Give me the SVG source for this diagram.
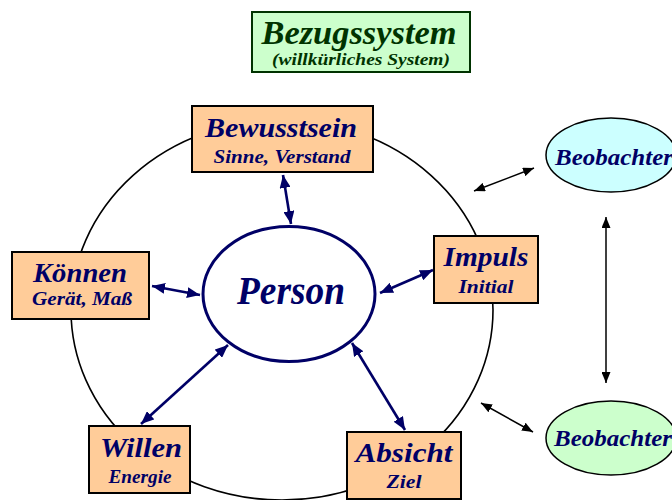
<svg xmlns="http://www.w3.org/2000/svg" width="672" height="500" viewBox="0 0 672 500">
  <style>
    text { font-family: "Liberation Serif", "Times New Roman", serif; font-style: italic; font-weight: bold; text-anchor: middle; }
    .box { fill: #ffcc99; stroke: #000; stroke-width: 2; }
    .main { fill: #000066; font-size: 28px; }
    .sub { fill: #000066; font-size: 19px; }
    .nav { stroke: #000066; stroke-width: 2.6; fill: none; marker-start: url(#navyHead); marker-end: url(#navyHead); }
    .blk { stroke: #000; stroke-width: 1.5; fill: none; marker-start: url(#blackHead); marker-end: url(#blackHead); }
    .obs { stroke: #000; stroke-width: 1.5; }
    .obs-label { fill: #000066; font-size: 24px; text-anchor: start; }
  </style>
  <defs>
    <marker id="navyHead" markerUnits="userSpaceOnUse" viewBox="0 0 13 11" refX="13" refY="5.5" markerWidth="13" markerHeight="11" orient="auto-start-reverse">
      <path d="M0,0 L13,5.5 L0,11 Z" fill="#000066"/>
    </marker>
    <marker id="blackHead" markerUnits="userSpaceOnUse" viewBox="0 0 11 9" refX="11" refY="4.5" markerWidth="11" markerHeight="9" orient="auto-start-reverse">
      <path d="M0,0 L11,4.5 L0,9 Z" fill="#000"/>
    </marker>
  </defs>

  <rect width="672" height="500" fill="#fff"/>

  <!-- outer frame of reference -->
  <ellipse cx="282" cy="310" rx="211" ry="190" fill="none" stroke="#000" stroke-width="1.6"/>

  <!-- title -->
  <g id="title">
    <rect x="252" y="12" width="218" height="60" fill="#ccffcc" stroke="#003300" stroke-width="2"/>
    <text x="359" y="44" font-size="34" fill="#003300" textLength="195" lengthAdjust="spacingAndGlyphs">Bezugssystem</text>
    <text x="361" y="65" font-size="17" fill="#003300" textLength="178" lengthAdjust="spacingAndGlyphs">(willkürliches System)</text>
  </g>

  <g id="connectors">
    <line class="nav" x1="283" y1="175" x2="291" y2="224"/>
    <line class="nav" x1="152" y1="286" x2="200" y2="295"/>
    <line class="nav" x1="433" y1="270" x2="380" y2="293"/>
    <line class="nav" x1="141" y1="424" x2="228" y2="345"/>
    <line class="nav" x1="405" y1="430" x2="352" y2="343"/>
    <line class="blk" x1="474" y1="191" x2="534" y2="168"/>
    <line class="blk" x1="606" y1="217" x2="606" y2="383"/>
    <line class="blk" x1="481" y1="403" x2="533" y2="432"/>
  </g>

  <g id="person">
    <ellipse cx="289" cy="294" rx="86" ry="67.5" fill="#fff" stroke="#000066" stroke-width="3"/>
    <text x="291" y="304" font-size="39" fill="#000066" textLength="108" lengthAdjust="spacingAndGlyphs">Person</text>
  </g>

  <g id="bewusstsein">
    <rect class="box" x="192" y="106" width="181" height="66"/>
    <text class="main" x="281" y="137" textLength="152" lengthAdjust="spacingAndGlyphs">Bewusstsein</text>
    <text class="sub" x="282" y="163" textLength="137" lengthAdjust="spacingAndGlyphs">Sinne, Verstand</text>
  </g>

  <g id="koennen">
    <rect class="box" x="12" y="252" width="137" height="67"/>
    <text class="main" x="80" y="282" textLength="94" lengthAdjust="spacingAndGlyphs">Können</text>
    <text class="sub" x="82" y="305" textLength="100" lengthAdjust="spacingAndGlyphs">Gerät, Maß</text>
  </g>

  <g id="impuls">
    <rect class="box" x="434" y="236" width="104" height="67"/>
    <text class="main" x="486" y="266" textLength="85" lengthAdjust="spacingAndGlyphs">Impuls</text>
    <text class="sub" x="486" y="293" textLength="55" lengthAdjust="spacingAndGlyphs">Initial</text>
  </g>

  <g id="willen">
    <rect class="box" x="89" y="426" width="101" height="67"/>
    <text class="main" x="141" y="457" textLength="82" lengthAdjust="spacingAndGlyphs">Willen</text>
    <text class="sub" x="140" y="483" textLength="63" lengthAdjust="spacingAndGlyphs">Energie</text>
  </g>

  <g id="absicht">
    <rect class="box" x="347" y="432" width="114" height="67"/>
    <text class="main" x="404" y="462" textLength="97" lengthAdjust="spacingAndGlyphs">Absicht</text>
    <text class="sub" x="404" y="488" textLength="35" lengthAdjust="spacingAndGlyphs">Ziel</text>
  </g>

  <g id="beobachter-oben">
    <ellipse class="obs" cx="611" cy="155" rx="65" ry="37" fill="#ccffff"/>
    <text class="obs-label" x="555" y="165" textLength="118" lengthAdjust="spacingAndGlyphs">Beobachter</text>
  </g>

  <g id="beobachter-unten">
    <ellipse class="obs" cx="611" cy="438" rx="65" ry="37" fill="#ccffcc"/>
    <text class="obs-label" x="554" y="446" textLength="118" lengthAdjust="spacingAndGlyphs">Beobachter</text>
  </g>
</svg>
